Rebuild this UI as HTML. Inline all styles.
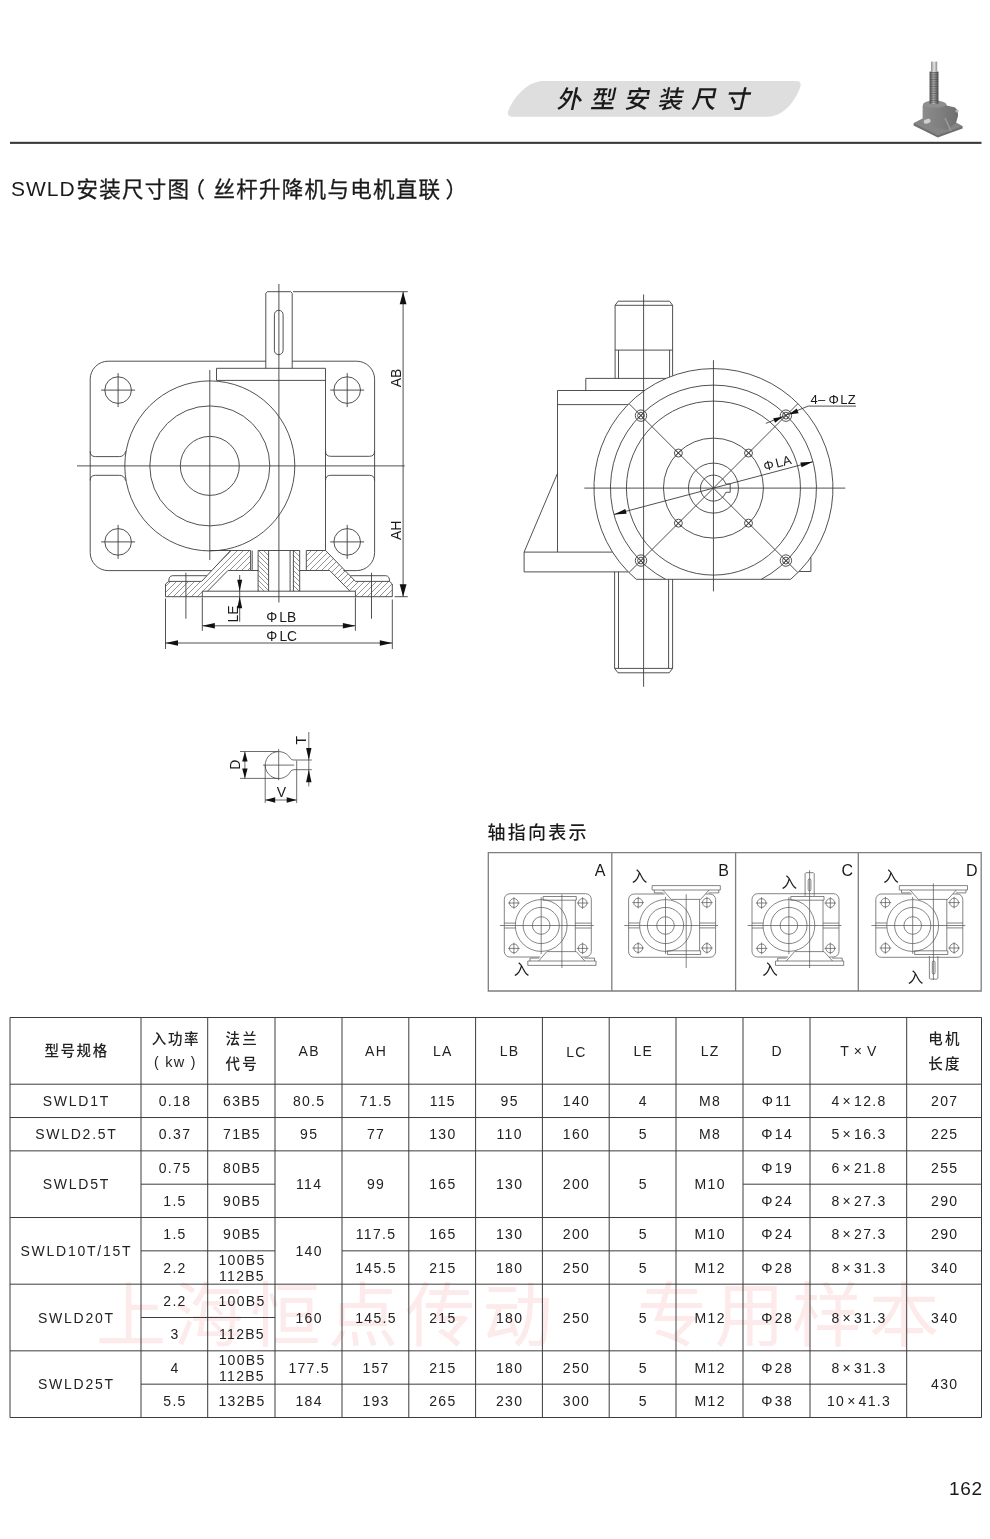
<!DOCTYPE html>
<html lang="zh"><head><meta charset="utf-8"><title>SWLD 外型安装尺寸</title>
<style>
html,body{margin:0;padding:0;background:#fff;}
body{width:990px;height:1539px;overflow:hidden;font-family:"Liberation Sans","Noto Sans CJK SC",sans-serif;}
svg{display:block;}
svg text{font-family:"Liberation Sans","Noto Sans CJK SC",sans-serif;filter:grayscale(1);}
</style></head><body>
<svg width="990" height="1539" viewBox="0 0 990 1539">
<rect width="990" height="1539" fill="#fff"/>
<text x="96 173.3 250.6 327.9 405.2 482.5 637.1 714.4 791.7 869" y="1340.8" font-size="70" fill="#fdeaea" style="filter:none">上海恒点传动专用样本</text>
<path d="M512,116.7 Q507.6,116.7 507.8,112.6 C510.5,102 525,81 543.5,80.9 H796.6 Q800.9,80.9 800.7,85.2 C797.8,96 786,116.6 767.5,116.7 Z" fill="#dedede"/>
<text x="556.5 590.1 623.7 657.3 690.9 724.5" y="0" font-size="24.6" font-weight="500" fill="#1a1a1a" transform="translate(0,108.25) skewX(-12)">外型安装尺寸</text>
<rect x="10" y="141.8" width="971.5" height="2.1" fill="#3a3a3a"/>
<text x="10.90" y="195.80" font-size="21" text-anchor="start" letter-spacing="1.0" fill="#1a1a1a">SWLD</text>
<text x="76.6 99.3 122 144.7 167.4" y="196.73" font-size="21.5" fill="#1a1a1a" stroke="#1a1a1a" stroke-width="0.3">安装尺寸图</text>
<text x="183.4" y="196.73" font-size="21.5" fill="#1a1a1a" stroke="#1a1a1a" stroke-width="0.3">（</text>
<text x="213.5 236.28 259.06 281.84 304.62 327.4 350.18 372.96 395.74 418.52" y="196.73" font-size="21.5" fill="#1a1a1a" stroke="#1a1a1a" stroke-width="0.3">丝杆升降机与电机直联</text>
<text x="445.5" y="196.73" font-size="21.5" fill="#1a1a1a" stroke="#1a1a1a" stroke-width="0.3">）</text>
<text x="982.60" y="1494.80" font-size="19" text-anchor="end" letter-spacing="0.6" fill="#1a1a1a">162</text>
<g><defs><linearGradient id="gsc" x1="0" x2="1" y1="0" y2="0"><stop offset="0" stop-color="#555"/><stop offset="0.45" stop-color="#b8b8b8"/><stop offset="1" stop-color="#4d4d4d"/></linearGradient><linearGradient id="gtp" x1="0" x2="1" y1="0" y2="0"><stop offset="0" stop-color="#8a8a8a"/><stop offset="0.5" stop-color="#e4e4e4"/><stop offset="1" stop-color="#8a8a8a"/></linearGradient><linearGradient id="gbd" x1="0" x2="1" y1="0" y2="0"><stop offset="0" stop-color="#8c8c8c"/><stop offset="0.6" stop-color="#7c7c7c"/><stop offset="1" stop-color="#6e6e6e"/></linearGradient></defs><polygon points="913.6,123.2 913.6,125.6 937.8,137.6 962.6,128.4 962.6,126.2 946.5,117.6 927,116.5" fill="#6f6f6f"/><polygon points="913.6,123.2 937.8,135.2 962.6,126.2 946.5,117.6 927,116.5" fill="#858585"/><path d="M922.6,106 Q922.6,101.5 934.5,101.5 Q946.5,101.5 946.8,105.5 L955,107.5 Q958.5,110 958,116 L956,123 L947,130 L932,127 L922.6,121 Z" fill="url(#gbd)"/><ellipse cx="934.6" cy="104.2" rx="11.6" ry="3.6" fill="#8f8f8f"/><path d="M945,118 L951,131" stroke="#9a9a9a" stroke-width="1.6"/><rect x="923.6" y="119.2" width="7" height="4.2" rx="2" fill="#cfcfcf" transform="rotate(-18 927 121)"/><circle cx="957" cy="111" r="1.6" fill="#b5b5b5"/><rect x="929.6" y="71.5" width="8.8" height="32.5" fill="url(#gsc)"/><path d="M929.6,72.5h8.8M929.6,74.2h8.8M929.6,76.0h8.8M929.6,77.8h8.8M929.6,79.5h8.8M929.6,81.2h8.8M929.6,83.0h8.8M929.6,84.8h8.8M929.6,86.5h8.8M929.6,88.2h8.8M929.6,90.0h8.8M929.6,91.8h8.8M929.6,93.5h8.8M929.6,95.2h8.8M929.6,97.0h8.8M929.6,98.8h8.8M929.6,100.5h8.8M929.6,102.2h8.8" stroke="#444" stroke-width="0.7" opacity="0.75"/><rect x="931" y="61.6" width="6.2" height="10.2" fill="url(#gtp)"/></g>
<path d="M10,1017.5V1417.50M141,1017.5V1417.50M207.7,1017.5V1417.50M275,1017.5V1417.50M342,1017.5V1417.50M408.8,1017.5V1417.50M475.6,1017.5V1417.50M542.4,1017.5V1417.50M609.2,1017.5V1417.50M676,1017.5V1417.50M743,1017.5V1417.50M810,1017.5V1417.50M906.7,1017.5V1417.50M981.5,1017.5V1417.50M10,1017.50H981.5M10,1084.20H981.5M10,1117.53H981.5M10,1150.86H981.5M141,1184.19H275M743,1184.19H981.5M10,1217.52H981.5M141,1250.85H275M342,1250.85H981.5M10,1284.18H981.5M141,1317.51H275M10,1350.84H981.5M141,1384.17H906.7M10,1417.50H981.5" fill="none" stroke="#3c3c3c" stroke-width="1"/>
<text x="44.4 60.5 76.6 92.7" y="1056.3" font-size="14.5" font-weight="500" fill="#222">型号规格</text>
<text x="151.7 167.9 184.1" y="1044.3" font-size="14.5" font-weight="500" fill="#222">入功率</text>
<text x="175.30" y="1066.60" font-size="14" text-anchor="middle" letter-spacing="1.3" fill="#222">( <tspan font-size="14.5">kw</tspan> )</text>
<text x="225.6 242.2" y="1044.3" font-size="14.5" font-weight="500" fill="#222">法兰</text>
<text x="225.6 242.2" y="1068.5" font-size="14.5" font-weight="500" fill="#222">代号</text>
<text x="928.3 944.9" y="1044.3" font-size="14.5" font-weight="500" fill="#222">电机</text>
<text x="928.3 944.9" y="1068.5" font-size="14.5" font-weight="500" fill="#222">长度</text>
<text x="309.15" y="1056.00" font-size="14" text-anchor="middle" letter-spacing="1.3" fill="#222">AB</text>
<text x="376.05" y="1056.00" font-size="14" text-anchor="middle" letter-spacing="1.3" fill="#222">AH</text>
<text x="442.85" y="1056.00" font-size="14" text-anchor="middle" letter-spacing="1.3" fill="#222">LA</text>
<text x="509.65" y="1056.00" font-size="14" text-anchor="middle" letter-spacing="1.3" fill="#222">LB</text>
<text x="576.45" y="1057.00" font-size="14" text-anchor="middle" letter-spacing="1.3" fill="#222">LC</text>
<text x="643.25" y="1056.00" font-size="14" text-anchor="middle" letter-spacing="1.3" fill="#222">LE</text>
<text x="710.15" y="1056.00" font-size="14" text-anchor="middle" letter-spacing="1.3" fill="#222">LZ</text>
<text x="777.15" y="1056.00" font-size="14" text-anchor="middle" letter-spacing="1.3" fill="#222">D</text>
<text x="858.65" y="1056.00" font-size="14" text-anchor="middle" letter-spacing="0.6" fill="#222">T × V</text>
<text x="76.38" y="1106.02" font-size="14" text-anchor="middle" letter-spacing="1.75" fill="#222">SWLD1T</text>
<text x="175.00" y="1106.02" font-size="14" text-anchor="middle" letter-spacing="1.3" fill="#222">0.18</text>
<text x="242.00" y="1106.02" font-size="14" text-anchor="middle" letter-spacing="1.3" fill="#222">63B5</text>
<text x="309.15" y="1106.02" font-size="14" text-anchor="middle" letter-spacing="1.3" fill="#222">80.5</text>
<text x="376.05" y="1106.02" font-size="14" text-anchor="middle" letter-spacing="1.3" fill="#222">71.5</text>
<text x="442.85" y="1106.02" font-size="14" text-anchor="middle" letter-spacing="1.3" fill="#222">115</text>
<text x="509.65" y="1106.02" font-size="14" text-anchor="middle" letter-spacing="1.3" fill="#222">95</text>
<text x="576.45" y="1106.02" font-size="14" text-anchor="middle" letter-spacing="1.3" fill="#222">140</text>
<text x="643.25" y="1106.02" font-size="14" text-anchor="middle" letter-spacing="1.3" fill="#222">4</text>
<text x="710.15" y="1106.02" font-size="14" text-anchor="middle" letter-spacing="1.3" fill="#222">M8</text>
<text x="777.15" y="1106.02" font-size="14" text-anchor="middle" letter-spacing="1.3" fill="#222">Φ<tspan dx="1">11</tspan></text>
<text x="859.00" y="1106.02" font-size="14" text-anchor="middle" letter-spacing="1.3" fill="#222">4<tspan dx="2">×</tspan><tspan dx="2">12.8</tspan></text>
<text x="944.75" y="1106.02" font-size="14" text-anchor="middle" letter-spacing="1.3" fill="#222">207</text>
<text x="76.38" y="1139.35" font-size="14" text-anchor="middle" letter-spacing="1.75" fill="#222">SWLD2.5T</text>
<text x="175.00" y="1139.35" font-size="14" text-anchor="middle" letter-spacing="1.3" fill="#222">0.37</text>
<text x="242.00" y="1139.35" font-size="14" text-anchor="middle" letter-spacing="1.3" fill="#222">71B5</text>
<text x="309.15" y="1139.35" font-size="14" text-anchor="middle" letter-spacing="1.3" fill="#222">95</text>
<text x="376.05" y="1139.35" font-size="14" text-anchor="middle" letter-spacing="1.3" fill="#222">77</text>
<text x="442.85" y="1139.35" font-size="14" text-anchor="middle" letter-spacing="1.3" fill="#222">130</text>
<text x="509.65" y="1139.35" font-size="14" text-anchor="middle" letter-spacing="1.3" fill="#222">110</text>
<text x="576.45" y="1139.35" font-size="14" text-anchor="middle" letter-spacing="1.3" fill="#222">160</text>
<text x="643.25" y="1139.35" font-size="14" text-anchor="middle" letter-spacing="1.3" fill="#222">5</text>
<text x="710.15" y="1139.35" font-size="14" text-anchor="middle" letter-spacing="1.3" fill="#222">M8</text>
<text x="777.15" y="1139.35" font-size="14" text-anchor="middle" letter-spacing="1.3" fill="#222">Φ<tspan dx="1">14</tspan></text>
<text x="859.00" y="1139.35" font-size="14" text-anchor="middle" letter-spacing="1.3" fill="#222">5<tspan dx="2">×</tspan><tspan dx="2">16.3</tspan></text>
<text x="944.75" y="1139.35" font-size="14" text-anchor="middle" letter-spacing="1.3" fill="#222">225</text>
<text x="76.38" y="1189.34" font-size="14" text-anchor="middle" letter-spacing="1.75" fill="#222">SWLD5T</text>
<text x="309.15" y="1189.34" font-size="14" text-anchor="middle" letter-spacing="1.3" fill="#222">114</text>
<text x="376.05" y="1189.34" font-size="14" text-anchor="middle" letter-spacing="1.3" fill="#222">99</text>
<text x="442.85" y="1189.34" font-size="14" text-anchor="middle" letter-spacing="1.3" fill="#222">165</text>
<text x="509.65" y="1189.34" font-size="14" text-anchor="middle" letter-spacing="1.3" fill="#222">130</text>
<text x="576.45" y="1189.34" font-size="14" text-anchor="middle" letter-spacing="1.3" fill="#222">200</text>
<text x="643.25" y="1189.34" font-size="14" text-anchor="middle" letter-spacing="1.3" fill="#222">5</text>
<text x="710.15" y="1189.34" font-size="14" text-anchor="middle" letter-spacing="1.3" fill="#222">M10</text>
<text x="175.00" y="1172.68" font-size="14" text-anchor="middle" letter-spacing="1.3" fill="#222">0.75</text>
<text x="242.00" y="1172.68" font-size="14" text-anchor="middle" letter-spacing="1.3" fill="#222">80B5</text>
<text x="175.00" y="1206.01" font-size="14" text-anchor="middle" letter-spacing="1.3" fill="#222">1.5</text>
<text x="242.00" y="1206.01" font-size="14" text-anchor="middle" letter-spacing="1.3" fill="#222">90B5</text>
<text x="777.15" y="1172.68" font-size="14" text-anchor="middle" letter-spacing="1.3" fill="#222">Φ<tspan dx="1">19</tspan></text>
<text x="859.00" y="1172.68" font-size="14" text-anchor="middle" letter-spacing="1.3" fill="#222">6<tspan dx="2">×</tspan><tspan dx="2">21.8</tspan></text>
<text x="944.75" y="1172.68" font-size="14" text-anchor="middle" letter-spacing="1.3" fill="#222">255</text>
<text x="777.15" y="1206.01" font-size="14" text-anchor="middle" letter-spacing="1.3" fill="#222">Φ<tspan dx="1">24</tspan></text>
<text x="859.00" y="1206.01" font-size="14" text-anchor="middle" letter-spacing="1.3" fill="#222">8<tspan dx="2">×</tspan><tspan dx="2">27.3</tspan></text>
<text x="944.75" y="1206.01" font-size="14" text-anchor="middle" letter-spacing="1.3" fill="#222">290</text>
<text x="76.38" y="1256.00" font-size="14" text-anchor="middle" letter-spacing="1.75" fill="#222">SWLD10T/15T</text>
<text x="309.15" y="1256.00" font-size="14" text-anchor="middle" letter-spacing="1.3" fill="#222">140</text>
<text x="175.00" y="1239.34" font-size="14" text-anchor="middle" letter-spacing="1.3" fill="#222">1.5</text>
<text x="242.00" y="1239.34" font-size="14" text-anchor="middle" letter-spacing="1.3" fill="#222">90B5</text>
<text x="175.00" y="1272.66" font-size="14" text-anchor="middle" letter-spacing="1.3" fill="#222">2.2</text>
<text x="242.00" y="1265.45" font-size="14" text-anchor="middle" letter-spacing="1.3" fill="#222">100B5</text>
<text x="242.00" y="1280.85" font-size="14" text-anchor="middle" letter-spacing="1.3" fill="#222">112B5</text>
<text x="376.05" y="1239.34" font-size="14" text-anchor="middle" letter-spacing="1.3" fill="#222">117.5</text>
<text x="442.85" y="1239.34" font-size="14" text-anchor="middle" letter-spacing="1.3" fill="#222">165</text>
<text x="509.65" y="1239.34" font-size="14" text-anchor="middle" letter-spacing="1.3" fill="#222">130</text>
<text x="576.45" y="1239.34" font-size="14" text-anchor="middle" letter-spacing="1.3" fill="#222">200</text>
<text x="643.25" y="1239.34" font-size="14" text-anchor="middle" letter-spacing="1.3" fill="#222">5</text>
<text x="710.15" y="1239.34" font-size="14" text-anchor="middle" letter-spacing="1.3" fill="#222">M10</text>
<text x="777.15" y="1239.34" font-size="14" text-anchor="middle" letter-spacing="1.3" fill="#222">Φ<tspan dx="1">24</tspan></text>
<text x="859.00" y="1239.34" font-size="14" text-anchor="middle" letter-spacing="1.3" fill="#222">8<tspan dx="2">×</tspan><tspan dx="2">27.3</tspan></text>
<text x="944.75" y="1239.34" font-size="14" text-anchor="middle" letter-spacing="1.3" fill="#222">290</text>
<text x="376.05" y="1272.66" font-size="14" text-anchor="middle" letter-spacing="1.3" fill="#222">145.5</text>
<text x="442.85" y="1272.66" font-size="14" text-anchor="middle" letter-spacing="1.3" fill="#222">215</text>
<text x="509.65" y="1272.66" font-size="14" text-anchor="middle" letter-spacing="1.3" fill="#222">180</text>
<text x="576.45" y="1272.66" font-size="14" text-anchor="middle" letter-spacing="1.3" fill="#222">250</text>
<text x="643.25" y="1272.66" font-size="14" text-anchor="middle" letter-spacing="1.3" fill="#222">5</text>
<text x="710.15" y="1272.66" font-size="14" text-anchor="middle" letter-spacing="1.3" fill="#222">M12</text>
<text x="777.15" y="1272.66" font-size="14" text-anchor="middle" letter-spacing="1.3" fill="#222">Φ<tspan dx="1">28</tspan></text>
<text x="859.00" y="1272.66" font-size="14" text-anchor="middle" letter-spacing="1.3" fill="#222">8<tspan dx="2">×</tspan><tspan dx="2">31.3</tspan></text>
<text x="944.75" y="1272.66" font-size="14" text-anchor="middle" letter-spacing="1.3" fill="#222">340</text>
<text x="76.38" y="1322.66" font-size="14" text-anchor="middle" letter-spacing="1.75" fill="#222">SWLD20T</text>
<text x="175.00" y="1306.00" font-size="14" text-anchor="middle" letter-spacing="1.3" fill="#222">2.2</text>
<text x="242.00" y="1306.00" font-size="14" text-anchor="middle" letter-spacing="1.3" fill="#222">100B5</text>
<text x="175.00" y="1339.33" font-size="14" text-anchor="middle" letter-spacing="1.3" fill="#222">3</text>
<text x="242.00" y="1339.33" font-size="14" text-anchor="middle" letter-spacing="1.3" fill="#222">112B5</text>
<text x="309.15" y="1322.66" font-size="14" text-anchor="middle" letter-spacing="1.3" fill="#222">160</text>
<text x="376.05" y="1322.66" font-size="14" text-anchor="middle" letter-spacing="1.3" fill="#222">145.5</text>
<text x="442.85" y="1322.66" font-size="14" text-anchor="middle" letter-spacing="1.3" fill="#222">215</text>
<text x="509.65" y="1322.66" font-size="14" text-anchor="middle" letter-spacing="1.3" fill="#222">180</text>
<text x="576.45" y="1322.66" font-size="14" text-anchor="middle" letter-spacing="1.3" fill="#222">250</text>
<text x="643.25" y="1322.66" font-size="14" text-anchor="middle" letter-spacing="1.3" fill="#222">5</text>
<text x="710.15" y="1322.66" font-size="14" text-anchor="middle" letter-spacing="1.3" fill="#222">M12</text>
<text x="777.15" y="1322.66" font-size="14" text-anchor="middle" letter-spacing="1.3" fill="#222">Φ<tspan dx="1">28</tspan></text>
<text x="859.00" y="1322.66" font-size="14" text-anchor="middle" letter-spacing="1.3" fill="#222">8<tspan dx="2">×</tspan><tspan dx="2">31.3</tspan></text>
<text x="944.75" y="1322.66" font-size="14" text-anchor="middle" letter-spacing="1.3" fill="#222">340</text>
<text x="76.38" y="1389.32" font-size="14" text-anchor="middle" letter-spacing="1.75" fill="#222">SWLD25T</text>
<text x="175.00" y="1372.66" font-size="14" text-anchor="middle" letter-spacing="1.3" fill="#222">4</text>
<text x="242.00" y="1365.44" font-size="14" text-anchor="middle" letter-spacing="1.3" fill="#222">100B5</text>
<text x="242.00" y="1380.84" font-size="14" text-anchor="middle" letter-spacing="1.3" fill="#222">112B5</text>
<text x="175.00" y="1405.99" font-size="14" text-anchor="middle" letter-spacing="1.3" fill="#222">5.5</text>
<text x="242.00" y="1405.99" font-size="14" text-anchor="middle" letter-spacing="1.3" fill="#222">132B5</text>
<text x="309.15" y="1372.66" font-size="14" text-anchor="middle" letter-spacing="1.3" fill="#222">177.5</text>
<text x="376.05" y="1372.66" font-size="14" text-anchor="middle" letter-spacing="1.3" fill="#222">157</text>
<text x="442.85" y="1372.66" font-size="14" text-anchor="middle" letter-spacing="1.3" fill="#222">215</text>
<text x="509.65" y="1372.66" font-size="14" text-anchor="middle" letter-spacing="1.3" fill="#222">180</text>
<text x="576.45" y="1372.66" font-size="14" text-anchor="middle" letter-spacing="1.3" fill="#222">250</text>
<text x="643.25" y="1372.66" font-size="14" text-anchor="middle" letter-spacing="1.3" fill="#222">5</text>
<text x="710.15" y="1372.66" font-size="14" text-anchor="middle" letter-spacing="1.3" fill="#222">M12</text>
<text x="777.15" y="1372.66" font-size="14" text-anchor="middle" letter-spacing="1.3" fill="#222">Φ<tspan dx="1">28</tspan></text>
<text x="859.00" y="1372.66" font-size="14" text-anchor="middle" letter-spacing="1.3" fill="#222">8<tspan dx="2">×</tspan><tspan dx="2">31.3</tspan></text>
<text x="309.15" y="1405.99" font-size="14" text-anchor="middle" letter-spacing="1.3" fill="#222">184</text>
<text x="376.05" y="1405.99" font-size="14" text-anchor="middle" letter-spacing="1.3" fill="#222">193</text>
<text x="442.85" y="1405.99" font-size="14" text-anchor="middle" letter-spacing="1.3" fill="#222">265</text>
<text x="509.65" y="1405.99" font-size="14" text-anchor="middle" letter-spacing="1.3" fill="#222">230</text>
<text x="576.45" y="1405.99" font-size="14" text-anchor="middle" letter-spacing="1.3" fill="#222">300</text>
<text x="643.25" y="1405.99" font-size="14" text-anchor="middle" letter-spacing="1.3" fill="#222">5</text>
<text x="710.15" y="1405.99" font-size="14" text-anchor="middle" letter-spacing="1.3" fill="#222">M12</text>
<text x="777.15" y="1405.99" font-size="14" text-anchor="middle" letter-spacing="1.3" fill="#222">Φ<tspan dx="1">38</tspan></text>
<text x="859.00" y="1405.99" font-size="14" text-anchor="middle" letter-spacing="1.3" fill="#222">10<tspan dx="2">×</tspan><tspan dx="2">41.3</tspan></text>
<text x="944.75" y="1389.32" font-size="14" text-anchor="middle" letter-spacing="1.3" fill="#222">430</text>
<path d="M265.8,361.2H108.2A18,18 0 0 0 90.2,379.2V552.6A18,18 0 0 0 108.2,570.6H211.5M292.2,361.2H356.6A18,18 0 0 1 374.6,379.2V552.6A18,18 0 0 1 356.6,570.6H343.3M101.1,390.1H135.1M118.1,373.1V407.1M330.2,390.1H364.2M347.2,373.1V407.1M101.1,541.9H135.1M118.1,524.9V558.9M330.2,541.9H364.2M347.2,524.9V558.9M77,465.9H404.7M209.8,370V560M278.9,284V602.5M216.5,380.4V368.3H325.5V550.5M216.5,380.4H325.5M265.8,368.3V293.2L267.3,291.7H290.7L292.2,293.2V368.3M90.2,451.4Q90.2,456.6 95.4,456.6H119.3Q124.3,456.6 125.6,451.3M90.2,480.5Q90.2,475.3 95.4,475.3H119.3Q124.3,475.3 125.6,480.6M325.5,451Q325.5,456.3 330.7,456.3H369.4Q374.6,456.3 374.6,451M325.5,480.6Q325.5,475.3 330.7,475.3H369.4Q374.6,475.3 374.6,480.6M209.8,550.5H250.6V570.5H227.9L207.5,591.2M252.2,550.5V570.5M250.6,570.5H258.1M258.1,591.2V550.5H299.7V591.2M268.6,550.5V591.2M290.1,550.5V591.2M293.4,550.5V591.2M299.7,570.5H329.7L350,591.2M306.3,570.5V550.5H325.6M230.5,550.5L201.6,581.4H168.8L165.5,584V596.7H392.3V584L389.5,581.4H355.5L325.6,550.5M168.8,581.4Q168.6,575.9 172.6,575.7H206.8M389.5,581.4Q389.7,575.9 385.7,575.7H350.4M202.3,596.7V591.2H355.4V596.7M185.9,572.8V618.7M371.5,572.8V618.7M293,291.7H407.8M403.1,291.7V596.7M394.6,596.7H407.8M165.5,598.5V649M392.3,599.5V649M202.3,597.5V630.8M355.4,597.5V630.8M202.3,625.8H355.4M165.5,643H392.3M239.7,575V621.7" fill="none" stroke="#3d3d3d" stroke-width="0.9"/>
<g fill="none" stroke="#3d3d3d" stroke-width="0.9"><circle cx="209.8" cy="465.9" r="85"/><circle cx="209.8" cy="465.9" r="60"/><circle cx="209.8" cy="465.9" r="29.5"/><circle cx="118.1" cy="390.1" r="13.3"/><circle cx="347.2" cy="390.1" r="13.3"/><circle cx="118.1" cy="541.9" r="13.3"/><circle cx="347.2" cy="541.9" r="13.3"/><rect x="274.4" y="310.3" width="8.7" height="44.4" rx="4.35"/></g>
<clipPath id="hL"><polygon points="230.50,550.50 250.60,550.50 250.60,570.50 227.90,570.50 207.50,591.20 202.30,591.20 202.30,596.70 165.50,596.70 165.50,584.00 168.80,581.40 201.60,581.40"/></clipPath><path d="M113.00,597.00l47.00,-47.00M119.00,597.00l47.00,-47.00M125.00,597.00l47.00,-47.00M131.00,597.00l47.00,-47.00M137.00,597.00l47.00,-47.00M143.00,597.00l47.00,-47.00M149.00,597.00l47.00,-47.00M155.00,597.00l47.00,-47.00M161.00,597.00l47.00,-47.00M167.00,597.00l47.00,-47.00M173.00,597.00l47.00,-47.00M179.00,597.00l47.00,-47.00M185.00,597.00l47.00,-47.00M191.00,597.00l47.00,-47.00M197.00,597.00l47.00,-47.00M203.00,597.00l47.00,-47.00M209.00,597.00l47.00,-47.00M215.00,597.00l47.00,-47.00M221.00,597.00l47.00,-47.00M227.00,597.00l47.00,-47.00M233.00,597.00l47.00,-47.00M239.00,597.00l47.00,-47.00M245.00,597.00l47.00,-47.00M251.00,597.00l47.00,-47.00M257.00,597.00l47.00,-47.00M263.00,597.00l47.00,-47.00M269.00,597.00l47.00,-47.00M275.00,597.00l47.00,-47.00M281.00,597.00l47.00,-47.00M287.00,597.00l47.00,-47.00M293.00,597.00l47.00,-47.00M299.00,597.00l47.00,-47.00" clip-path="url(#hL)" stroke="#4a4a4a" stroke-width="0.6" fill="none"/>
<clipPath id="hR"><polygon points="325.60,550.50 306.30,550.50 306.30,570.50 329.70,570.50 350.00,591.20 355.40,591.20 355.40,596.70 392.30,596.70 392.30,584.00 389.50,581.40 355.50,581.40"/></clipPath><path d="M253.00,597.00l47.00,-47.00M259.00,597.00l47.00,-47.00M265.00,597.00l47.00,-47.00M271.00,597.00l47.00,-47.00M277.00,597.00l47.00,-47.00M283.00,597.00l47.00,-47.00M289.00,597.00l47.00,-47.00M295.00,597.00l47.00,-47.00M301.00,597.00l47.00,-47.00M307.00,597.00l47.00,-47.00M313.00,597.00l47.00,-47.00M319.00,597.00l47.00,-47.00M325.00,597.00l47.00,-47.00M331.00,597.00l47.00,-47.00M337.00,597.00l47.00,-47.00M343.00,597.00l47.00,-47.00M349.00,597.00l47.00,-47.00M355.00,597.00l47.00,-47.00M361.00,597.00l47.00,-47.00M367.00,597.00l47.00,-47.00M373.00,597.00l47.00,-47.00M379.00,597.00l47.00,-47.00M385.00,597.00l47.00,-47.00M391.00,597.00l47.00,-47.00M397.00,597.00l47.00,-47.00M403.00,597.00l47.00,-47.00M409.00,597.00l47.00,-47.00M415.00,597.00l47.00,-47.00M421.00,597.00l47.00,-47.00M427.00,597.00l47.00,-47.00M433.00,597.00l47.00,-47.00M439.00,597.00l47.00,-47.00" clip-path="url(#hR)" stroke="#4a4a4a" stroke-width="0.6" fill="none"/>
<clipPath id="hHl"><polygon points="258.10,550.50 268.60,550.50 268.60,591.20 258.10,591.20"/></clipPath><path d="M213.00,550.00l42.00,42.00M218.00,550.00l42.00,42.00M223.00,550.00l42.00,42.00M228.00,550.00l42.00,42.00M233.00,550.00l42.00,42.00M238.00,550.00l42.00,42.00M243.00,550.00l42.00,42.00M248.00,550.00l42.00,42.00M253.00,550.00l42.00,42.00M258.00,550.00l42.00,42.00M263.00,550.00l42.00,42.00M268.00,550.00l42.00,42.00M273.00,550.00l42.00,42.00M278.00,550.00l42.00,42.00M283.00,550.00l42.00,42.00M288.00,550.00l42.00,42.00M293.00,550.00l42.00,42.00M298.00,550.00l42.00,42.00M303.00,550.00l42.00,42.00M308.00,550.00l42.00,42.00" clip-path="url(#hHl)" stroke="#4a4a4a" stroke-width="0.6" fill="none"/>
<clipPath id="hHr"><polygon points="293.40,550.50 299.70,550.50 299.70,591.20 293.40,591.20"/></clipPath><path d="M248.00,550.00l42.00,42.00M253.00,550.00l42.00,42.00M258.00,550.00l42.00,42.00M263.00,550.00l42.00,42.00M268.00,550.00l42.00,42.00M273.00,550.00l42.00,42.00M278.00,550.00l42.00,42.00M283.00,550.00l42.00,42.00M288.00,550.00l42.00,42.00M293.00,550.00l42.00,42.00M298.00,550.00l42.00,42.00M303.00,550.00l42.00,42.00M308.00,550.00l42.00,42.00M313.00,550.00l42.00,42.00M318.00,550.00l42.00,42.00M323.00,550.00l42.00,42.00M328.00,550.00l42.00,42.00M333.00,550.00l42.00,42.00M338.00,550.00l42.00,42.00" clip-path="url(#hHr)" stroke="#4a4a4a" stroke-width="0.6" fill="none"/>
<polygon points="403.10,291.70 406.50,304.20 399.70,304.20" fill="#111"/>
<polygon points="403.10,596.70 399.70,584.20 406.50,584.20" fill="#111"/>
<polygon points="239.70,591.20 237.20,579.70 242.20,579.70" fill="#111"/>
<polygon points="239.70,596.70 242.20,608.20 237.20,608.20" fill="#111"/>
<polygon points="202.30,625.80 214.80,623.00 214.80,628.60" fill="#111"/>
<polygon points="355.40,625.80 342.90,628.60 342.90,623.00" fill="#111"/>
<polygon points="165.50,643.00 178.00,640.20 178.00,645.80" fill="#111"/>
<polygon points="392.30,643.00 379.80,645.80 379.80,640.20" fill="#111"/>
<text x="401.30" y="378.00" font-size="14" text-anchor="middle" fill="#1a1a1a" transform="rotate(-90 401.30 378.00)">AB</text>
<text x="401.30" y="530.30" font-size="14" text-anchor="middle" fill="#1a1a1a" transform="rotate(-90 401.30 530.30)">AH</text>
<text x="237.50" y="614.00" font-size="14" text-anchor="middle" fill="#1a1a1a" transform="rotate(-90 237.50 614.00)">LE</text>
<text x="281.20" y="622.30" font-size="13.8" text-anchor="middle" fill="#1a1a1a">Φ<tspan dx="2.2">LB</tspan></text>
<text x="281.60" y="640.60" font-size="13.8" text-anchor="middle" fill="#1a1a1a">Φ<tspan dx="2.2">LC</tspan></text>
<path d="M636.23,579.3A119.5,119.5 0 1 1 790.67,579.3ZM665.58,579.3A103,103 0 1 1 761.32,579.3M584.3,488.1H845.3M713.45,360.2V591.4M643.6,294.5V686.8M629.1500000000001,403.8L797.75,572.4M797.75,403.8L629.1500000000001,572.4M615.1,378.4V305.3L618.1,301.2H669.6L672.6,305.3V375.80M615.1,305.3H672.6M615.1,350.1H672.6M618.5,350.1V378.4M669.6,350.1V376.94M585.8,390.5V378.4H666.06M644.50,390.5H557.5V552.1M557.5,404.6H627.96M557.5,473.3L524.1,552.1M612.53,552.1H524.1V571.9H628.26M810.9,557.26V571.5H799.03M614.6,571.9V668.4L618,672.8H669.2L672.6,668.4V579.3M618.5,571.9V668.4M668.6,579.3V668.4M614.6,668.4H672.6M613.89,514.50L813.01,461.70M765.8,423.4L808.2,406.1H856M726.05,484H730.2V492.3H726.05" fill="none" stroke="#3d3d3d" stroke-width="0.9"/>
<g fill="none" stroke="#3d3d3d" stroke-width="0.9"><circle cx="713.45" cy="488.1" r="87"/><circle cx="713.45" cy="488.1" r="50"/><circle cx="713.45" cy="488.1" r="25"/><path d="M725.77,483.95A13,13 0 1 0 725.77,492.25"/><circle cx="785.90" cy="560.55" r="5.7"/><circle cx="785.90" cy="560.55" r="3.4"/><circle cx="748.50" cy="523.15" r="4"/><circle cx="785.90" cy="415.65" r="5.7"/><circle cx="785.90" cy="415.65" r="3.4"/><circle cx="748.50" cy="453.05" r="4"/><circle cx="641.00" cy="560.55" r="5.7"/><circle cx="641.00" cy="560.55" r="3.4"/><circle cx="678.40" cy="523.15" r="4"/><circle cx="641.00" cy="415.65" r="5.7"/><circle cx="641.00" cy="415.65" r="3.4"/><circle cx="678.40" cy="453.05" r="4"/><path d="M783.50,558.15l4.8,4.8M788.30,558.15l-4.8,4.8M745.70,520.35l5.6,5.6M751.30,520.35l-5.6,5.6M783.50,413.25l4.8,4.8M788.30,413.25l-4.8,4.8M745.70,450.25l5.6,5.6M751.30,450.25l-5.6,5.6M638.60,558.15l4.8,4.8M643.40,558.15l-4.8,4.8M675.60,520.35l5.6,5.6M681.20,520.35l-5.6,5.6M638.60,413.25l4.8,4.8M643.40,413.25l-4.8,4.8M675.60,450.25l5.6,5.6M681.20,450.25l-5.6,5.6"/></g>
<polygon points="813.01,461.70 801.57,467.32 800.29,462.49" fill="#111"/>
<polygon points="613.89,514.50 625.33,508.88 626.61,513.71" fill="#111"/>
<polygon points="782.94,416.86 775.09,422.76 773.20,418.13" fill="#111"/>
<polygon points="788.86,414.44 796.71,408.54 798.60,413.17" fill="#111"/>
<text x="810.50" y="404.20" font-size="13" text-anchor="start" letter-spacing="0.2" fill="#1a1a1a">4–<tspan dx="3.2">Φ</tspan><tspan dx="1.2">LZ</tspan></text>
<text font-size="13" fill="#1a1a1a" transform="translate(764.8,471.0) rotate(-14.85)">Φ<tspan dx="2">LA</tspan></text>
<path d="M290.48,758.50A13.5,13.5 0 1 0 290.74,771.20M290.48,758.50Q291.68,760.0 293.68,760.0H311.8M290.74,771.20Q291.94,769.7 293.94,769.7H311.8M263,765.1H294.2M278.7,749.1V780.2M240,751.5H278.7M240,778.4H278.7M244.9,751.5V778.4M265.2,765V803M296.7,760.6V803M265.2,800H296.7M308.8,732V786.4" fill="none" stroke="#4a4a4a" stroke-width="0.8"/>
<polygon points="244.90,751.50 247.60,761.50 242.20,761.50" fill="#111"/>
<polygon points="244.90,778.40 242.20,768.40 247.60,768.40" fill="#111"/>
<polygon points="265.20,800.00 275.20,797.30 275.20,802.70" fill="#111"/>
<polygon points="296.70,800.00 286.70,802.70 286.70,797.30" fill="#111"/>
<polygon points="308.80,760.00 306.10,748.00 311.50,748.00" fill="#111"/>
<polygon points="308.80,769.70 311.50,782.20 306.10,782.20" fill="#111"/>
<text x="239.90" y="764.80" font-size="14" text-anchor="middle" fill="#1a1a1a" transform="rotate(-90 239.90 764.80)">D</text>
<text x="305.80" y="740.20" font-size="14" text-anchor="middle" fill="#1a1a1a" transform="rotate(-90 305.80 740.20)">T</text>
<text x="281.50" y="796.60" font-size="14" text-anchor="middle" fill="#1a1a1a">V</text>
<text x="487.4 507.7 528 548.3 568.6" y="839.31" font-size="18" font-weight="500" fill="#1a1a1a">轴指向表示</text>
<path d="M488.3,852.7H981.2V991.0H488.3ZM611.8,852.7V991.0M735.6,852.7V991.0M858.3,852.7V991.0" fill="none" stroke="#7e7e7e" stroke-width="1.3"/>
<g fill="none" stroke="#555" stroke-width="0.72"><path d="M540.40,957.00H509.90A5.6,5.6 0 0 1 504.30,951.40V899.30A5.6,5.6 0 0 1 509.90,893.70H585.70A5.6,5.6 0 0 1 591.30,899.30V951.40A5.6,5.6 0 0 1 585.70,957.00H581.40M508.10,903.00h11.6M513.90,897.20v11.6M576.80,903.00h11.6M582.60,897.20v11.6M508.10,948.40h11.6M513.90,942.60v11.6M576.80,948.40h11.6M582.60,942.60v11.6M543.10,900.20V896.50H576.30V900.20H543.10M575.30,900.20V951.60M499.90,925.5H593.80M541.20,897.10V954.10M504.30,923.10H515.40M575.30,923.10H591.30M504.30,928.00H515.40M575.30,928.00H591.30M527.80,961.00H596.00V965.40H527.80ZM530.00,961.00V958.10H539.00M594.50,961.00V958.10H584.40M538.60,961.00L546.90,951.60H576.30L584.80,961.00M561.90,894.20V968.10"/><circle cx="513.90" cy="903.00" r="4.4"/><circle cx="582.60" cy="903.00" r="4.4"/><circle cx="513.90" cy="948.40" r="4.4"/><circle cx="582.60" cy="948.40" r="4.4"/><circle cx="541.20" cy="925.5" r="25.9"/><circle cx="541.20" cy="925.5" r="18.1"/><circle cx="541.20" cy="925.5" r="8.8"/></g>
<g fill="none" stroke="#555" stroke-width="0.72"><path d="M664.70,894.00H634.20A5.6,5.6 0 0 0 628.60,899.60V951.70A5.6,5.6 0 0 0 634.20,957.30H710.00A5.6,5.6 0 0 0 715.60,951.70V899.60A5.6,5.6 0 0 0 710.00,894.00H705.70M632.40,948.00h11.6M638.20,942.20v11.6M701.10,948.00h11.6M706.90,942.20v11.6M632.40,902.60h11.6M638.20,896.80v11.6M701.10,902.60h11.6M706.90,896.80v11.6M667.40,950.80V954.50H700.60V950.80H667.40M699.60,950.80V899.40M624.20,925.5H718.10M665.50,953.90V896.90M628.60,927.90H639.70M699.60,927.90H715.60M628.60,923.00H639.70M699.60,923.00H715.60M652.10,890.00H720.30V885.60H652.10ZM654.30,890.00V892.90H663.30M718.80,890.00V892.90H708.70M662.90,890.00L671.20,899.40H700.60L709.10,890.00M686.20,894.20V968.10"/><circle cx="638.20" cy="948.00" r="4.4"/><circle cx="706.90" cy="948.00" r="4.4"/><circle cx="638.20" cy="902.60" r="4.4"/><circle cx="706.90" cy="902.60" r="4.4"/><circle cx="665.50" cy="925.5" r="25.9"/><circle cx="665.50" cy="925.5" r="18.1"/><circle cx="665.50" cy="925.5" r="8.8"/></g>
<g fill="none" stroke="#555" stroke-width="0.72"><path d="M788.10,957.00H757.60A5.6,5.6 0 0 1 752.00,951.40V899.30A5.6,5.6 0 0 1 757.60,893.70H833.40A5.6,5.6 0 0 1 839.00,899.30V951.40A5.6,5.6 0 0 1 833.40,957.00H829.10M755.80,903.00h11.6M761.60,897.20v11.6M824.50,903.00h11.6M830.30,897.20v11.6M755.80,948.40h11.6M761.60,942.60v11.6M824.50,948.40h11.6M830.30,942.60v11.6M790.80,900.20V896.50H824.00V900.20H790.80M823.00,900.20V951.60M747.60,925.5H841.50M788.90,897.10V954.10M752.00,923.10H763.10M823.00,923.10H839.00M752.00,928.00H763.10M823.00,928.00H839.00M775.50,961.00H843.70V965.40H775.50ZM777.70,961.00V958.10H786.70M842.20,961.00V958.10H832.10M786.30,961.00L794.60,951.60H824.00L832.50,961.00M805.10,895.80V873.50l0.8,-0.8H813.40l0.8,0.8V895.80M809.60,870.20V968.10"/><circle cx="761.60" cy="903.00" r="4.4"/><circle cx="830.30" cy="903.00" r="4.4"/><circle cx="761.60" cy="948.40" r="4.4"/><circle cx="830.30" cy="948.40" r="4.4"/><circle cx="788.90" cy="925.5" r="25.9"/><circle cx="788.90" cy="925.5" r="18.1"/><circle cx="788.90" cy="925.5" r="8.8"/><rect x="808.20" y="878.90" width="2.7" height="12" rx="1.3"/></g>
<g fill="none" stroke="#555" stroke-width="0.72"><path d="M911.90,894.00H881.40A5.6,5.6 0 0 0 875.80,899.60V951.70A5.6,5.6 0 0 0 881.40,957.30H957.20A5.6,5.6 0 0 0 962.80,951.70V899.60A5.6,5.6 0 0 0 957.20,894.00H952.90M879.60,948.00h11.6M885.40,942.20v11.6M948.30,948.00h11.6M954.10,942.20v11.6M879.60,902.60h11.6M885.40,896.80v11.6M948.30,902.60h11.6M954.10,896.80v11.6M914.60,950.80V954.50H947.80V950.80H914.60M946.80,950.80V899.40M871.40,925.5H965.30M912.70,953.90V896.90M875.80,927.90H886.90M946.80,927.90H962.80M875.80,923.00H886.90M946.80,923.00H962.80M899.30,890.00H967.50V885.60H899.30ZM901.50,890.00V892.90H910.50M966.00,890.00V892.90H955.90M910.10,890.00L918.40,899.40H947.80L956.30,890.00M929.40,956.00V978.30l0.8,0.8H937.10l0.8,-0.8V956.00M933.40,883.30V980.00"/><circle cx="885.40" cy="948.00" r="4.4"/><circle cx="954.10" cy="948.00" r="4.4"/><circle cx="885.40" cy="902.60" r="4.4"/><circle cx="954.10" cy="902.60" r="4.4"/><circle cx="912.70" cy="925.5" r="25.9"/><circle cx="912.70" cy="925.5" r="18.1"/><circle cx="912.70" cy="925.5" r="8.8"/><rect x="932.30" y="961.00" width="2.7" height="13" rx="1.3"/></g>
<text x="600.00" y="875.50" font-size="16" text-anchor="middle" fill="#1a1a1a">A</text>
<text x="723.60" y="875.50" font-size="16" text-anchor="middle" fill="#1a1a1a">B</text>
<text x="847.20" y="875.50" font-size="16" text-anchor="middle" fill="#1a1a1a">C</text>
<text x="971.70" y="875.50" font-size="16" text-anchor="middle" fill="#1a1a1a">D</text>
<text x="513.83" y="974.6" font-size="15.5" fill="#1a1a1a">入</text>
<text x="631.83" y="881.9" font-size="15.5" fill="#1a1a1a">入</text>
<text x="781.53" y="888.2" font-size="15.5" fill="#1a1a1a">入</text>
<text x="762.13" y="974.6" font-size="15.5" fill="#1a1a1a">入</text>
<text x="883.24" y="881.9" font-size="15.5" fill="#1a1a1a">入</text>
<text x="907.63" y="982.8" font-size="15.5" fill="#1a1a1a">入</text>

</svg>
</body></html>
